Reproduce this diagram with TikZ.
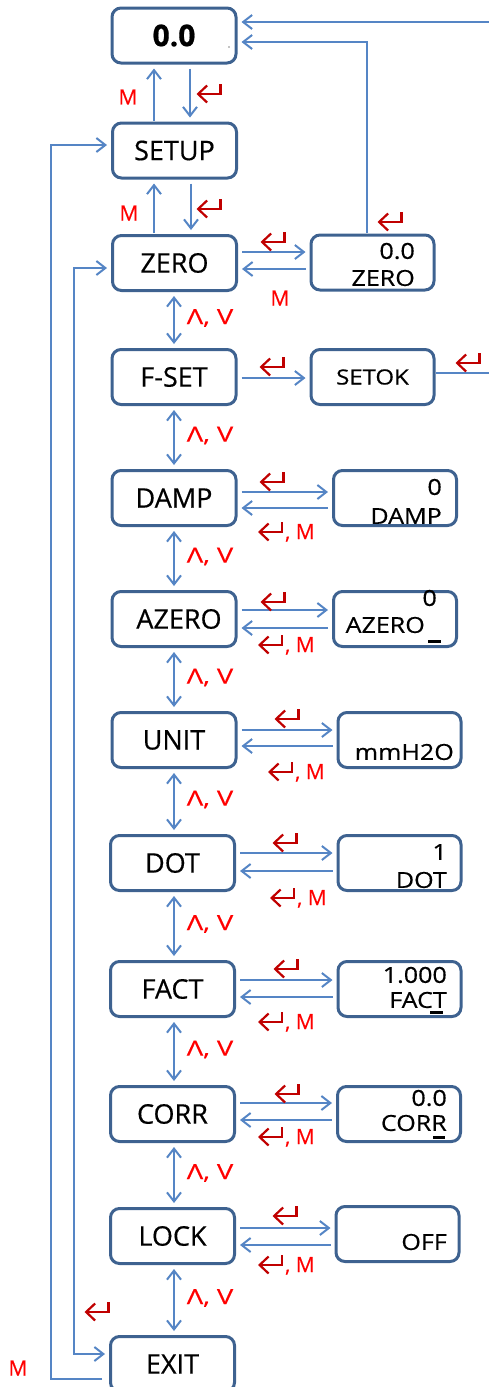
\documentclass[tikz,border=0pt]{standalone}
\usepackage{fontspec}
\setmainfont[FakeBold=0.5]{Open Sans}
\newfontfamily\subf[FakeStretch=1.14,FakeBold=0.5]{Open Sans}
\newfontfamily\keyf[FakeStretch=1.3,FakeBold=0.4]{Open Sans}
\usetikzlibrary{arrows.meta}
\definecolor{boxc}{HTML}{3E6290}
\definecolor{arrc}{HTML}{5585C5}
\definecolor{entc}{HTML}{C00000}
\definecolor{keyc}{HTML}{FF0000}
\begin{document}
\begin{tikzpicture}[x=1pt,y=-1pt,
  mainbox/.style={draw=boxc, line width=3pt, rounded corners=9pt, minimum width=124pt, minimum height=55pt, inner sep=0pt, font=\fontsize{27}{27}\selectfont},
  subbox/.style={draw=boxc, line width=3pt, rounded corners=9pt, minimum width=123pt, minimum height=55pt, inner sep=0pt, font=\subf\fontsize{21}{21}\selectfont},
  subtxt/.style={anchor=east, inner sep=0pt, font=\subf\fontsize{22}{22}\selectfont},
  arr/.style={draw=arrc, line width=2pt, -{Straight Barb[length=9pt,width=14pt]}, shorten <=4pt, shorten >=4pt},
  plainline/.style={draw=arrc, line width=2pt},
  dbl/.style={draw=arrc, line width=2pt, {Straight Barb[length=9pt,width=14pt]}-{Straight Barb[length=9pt,width=14pt]}, shorten <=4pt, shorten >=4pt},
  key/.style={text=keyc, font=\fontsize{21}{21}\selectfont, inner sep=0pt},
  updn/.style={text=keyc, font=\keyf\fontsize{21}{21}\selectfont, inner sep=0pt},
  comlabel/.style={anchor=base west, inner sep=0pt, text=keyc, font=\fontsize{21}{21}\selectfont},
  entr/.pic={\draw[entc, line width=2.2pt, -{Straight Barb[length=9pt,width=17pt]}] (24,-10) -- (24,0) -- (0,0);},
]
\useasboundingbox (0,0) rectangle (489,1387);

% main column
\node[mainbox, font=\bfseries\fontsize{30}{30}\selectfont] (top) at (174,35.5) {0.0};
\fill (229,47) circle (0.7pt);
\node[mainbox] (setup) at (174.5,150.5) {SETUP};
\node[mainbox] (zero) at (174.5,263) {ZERO};
\node[mainbox] (fset) at (174,377) {F-SET};
\node[mainbox] (damp) at (174,498) {DAMP};
\node[mainbox] (azero) at (174,619) {\hspace{10pt}AZERO};
\node[mainbox] (unit) at (174,740) {UNIT};
\node[mainbox] (dot) at (172.5,863) {DOT};
\node[mainbox] (fact) at (172.5,989) {FACT};
\node[mainbox] (corr) at (172.5,1114) {CORR};
\node[mainbox] (lock) at (172.5,1236) {LOCK};
\node[mainbox] (exit) at (172.5,1364) {EXIT};

% side boxes
\node[subbox] (zsub) at (372.5,262.5) {};
\node[subbox] (setok) at (372.5,377) {SETOK};
\node[subbox] (dsub) at (395,498) {};
\node[subbox] (azsub) at (395,619) {};
\node[subbox] (usub) at (399.5,740) {};
\node[subbox] (dotsub) at (399.5,863) {};
\node[subbox] (fsub) at (399.5,989) {};
\node[subbox] (csub) at (399,1114) {};
\node[subbox] (lsub) at (397.5,1234) {};

% side box texts
\node[subtxt] (zsv) at (415,251) {0.0};
\node[subtxt] (zsn) at (415,278) {ZERO};
\node[subtxt] (dsv) at (442,487) {0};
\node[subtxt] (dsn) at (442,516) {DAMP};
\node[subtxt] (azv) at (437,598) {0};
\node[subtxt] (azn) at (425,625) {AZERO};
\draw[line width=3pt] (428,641) -- (441,641);
\node[subtxt] (usv) at (454,752) {mmH2O};
\node[subtxt] (dotv) at (447,852) {1};
\node[subtxt] (dotn) at (447,880) {DOT};
\node[subtxt] (fv) at (447,975) {1.000};
\node[subtxt] (fn) at (447,1000) {FACT};
\draw[line width=3pt] (430,1012) -- (443,1012);
\node[subtxt] (cv) at (447,1098) {0.0};
\node[subtxt] (cn) at (447,1123) {CORR};
\draw[line width=3pt] (433,1137) -- (445,1137);
\node[subtxt] (lv) at (447,1242) {OFF};

% vertical arrows at the top
\draw[arr] (top.south -| 190,0) -- (setup.north -| 190,0);
\draw[arr, shorten <=1pt] (setup.north -| 154,0) -- (top.south -| 154,0);
\draw[arr] (setup.south -| 191,0) -- (zero.north -| 191,0);
\draw[arr, shorten <=1pt] (zero.north -| 154,0) -- (setup.south -| 154,0);

% ZERO row
\draw[arr] (zero.east |- 0,252) -- (zsub.west |- 0,252);
\draw[arr] (zsub.west |- 0,269) -- (zero.east |- 0,269);
\draw[arr, shorten <=1pt] (zsub.north -| 367,0) |- (top.east |- 0,42);

% F-SET row
\draw[arr] (fset.east |- 0,378) -- (setok.west |- 0,378);
\coordinate (edgeA) at (489,373);
\coordinate (edgeB) at (489,22);
\draw[plainline] (setok.east |- 0,373) -- (edgeA);
\draw[arr, shorten <=0pt] (edgeB) -- (top.east |- 0,22);

% parameter rows
\foreach \L/\S/\ya/\yb in {damp/dsub/492/508, azero/azsub/610/628, unit/usub/730/746, dot/dotsub/853/871, fact/fsub/980/997, corr/csub/1103/1120, lock/lsub/1228/1245}{
  \draw[arr] (\L.east |- 0,\ya) -- (\S.west |- 0,\ya);
  \draw[arr] (\S.west |- 0,\yb) -- (\L.east |- 0,\yb);
}

% up/down arrows
\foreach \a/\b in {zero/fset, fset/damp, damp/azero, azero/unit, unit/dot, dot/fact, fact/corr, corr/lock, lock/exit}{
  \draw[dbl] (\a.south -| 174,0) -- (\b.north -| 174,0)
    node[updn, midway, xshift=36pt, yshift=2pt] {Λ, V};
}

% left loops
\draw[arr, shorten <=7pt] (exit.west |- 0,1379) -| (51,145) -- (setup.west |- 0,145);
\draw[dbl] (zero.west |- 0,268) -| (74,1354) -- (exit.west |- 0,1354);

% M labels
\node[key] (m1) at (128,97) {M};
\node[key] (m2) at (129,213) {M};
\node[key] (m3) at (280,298) {M};
\node[key] (m4) at (18,1368) {M};

% enter symbols (tip positions)
\foreach \n/\x/\y in {e1/196.5/94, e2/196.5/209, e3/260.5/242, e4/377.5/222, e5/259.5/367, e6/455.5/363, e7/84.5/1312,
  ed/259.5/482, ea/260.5/602, eu/274.5/719, eo/272.5/843, ef/273.5/969, ec/274.5/1094, el/272.5/1216}{
  \pic (\n) at (\x,\y) {entr};
}

% enter, M labels below the return arrows
\foreach \n/\x/\y in {emd/258/530, ema/258/643, emu/268/770, emo/270/896, emf/258/1020, emc/258/1135, eml/258/1263}{
  \pic (\n s) at (\x,\y+2) {entr};
  \node[comlabel] (\n) at (\x+27,\y+9) {, M};
}
\end{tikzpicture}
\end{document}
